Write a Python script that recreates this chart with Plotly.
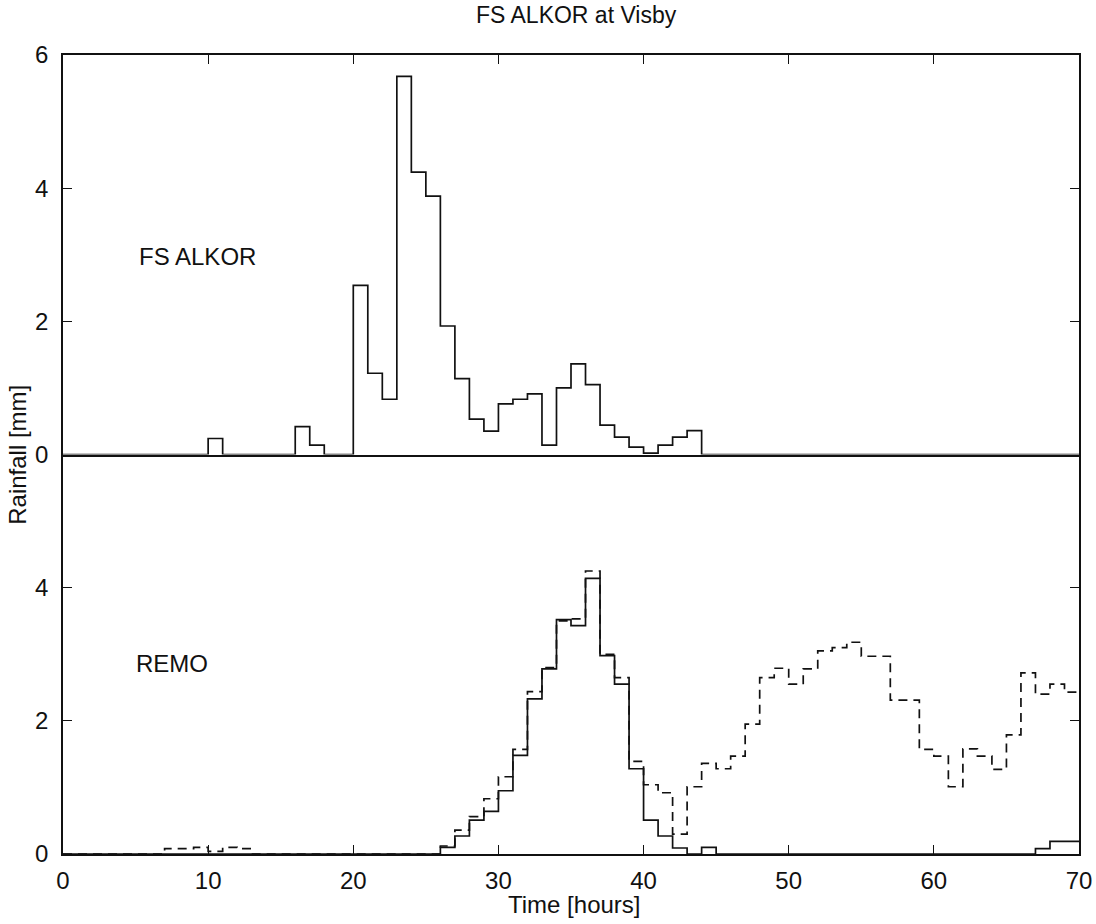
import plotly.graph_objects as go

# ---- data (hourly bins, hour 0..69) ----
hours = list(range(71))  # bin edges 0..70

alkor = [0, 0, 0, 0, 0, 0, 0, 0, 0, 0,
         0.24, 0, 0, 0, 0, 0, 0.42, 0.14, 0, 0,
         2.54, 1.22, 0.83, 5.68, 4.24, 3.88, 1.93, 1.14, 0.53, 0.35,
         0.76, 0.83, 0.91, 0.14, 1.00, 1.36, 1.05, 0.44, 0.26, 0.11,
         0.02, 0.14, 0.26, 0.36, 0, 0, 0, 0, 0, 0,
         0, 0, 0, 0, 0, 0, 0, 0, 0, 0,
         0, 0, 0, 0, 0, 0, 0, 0, 0, 0]

remo_solid = [0, 0, 0, 0, 0, 0, 0, 0, 0, 0,
              0, 0, 0, 0, 0, 0, 0, 0, 0, 0,
              0, 0, 0, 0, 0, 0, 0.10, 0.27, 0.51, 0.64,
              0.95, 1.48, 2.33, 2.78, 3.52, 3.43, 4.14, 2.98, 2.55, 1.28,
              0.51, 0.27, 0.09, 0, 0.10, 0, 0, 0, 0, 0,
              0, 0, 0, 0, 0, 0, 0, 0, 0, 0,
              0, 0, 0, 0, 0, 0, 0, 0.08, 0.19, 0.19]

remo_dashed = [0, 0, 0, 0, 0, 0, 0, 0.08, 0.08, 0.10,
               0.04, 0.10, 0.08, 0, 0, 0, 0, 0, 0, 0,
               0, 0, 0, 0, 0, 0, 0.12, 0.36, 0.56, 0.83,
               1.16, 1.57, 2.44, 2.80, 3.50, 3.53, 4.25, 3.00, 2.65, 1.39,
               1.04, 0.92, 0.30, 1.01, 1.36, 1.28, 1.47, 1.95, 2.65, 2.79,
               2.55, 2.78, 3.05, 3.10, 3.18, 2.97, 2.97, 2.31, 2.31, 1.57,
               1.47, 1.01, 1.58, 1.47, 1.27, 1.79, 2.72, 2.40, 2.55, 2.43]

x_ticks = [0, 10, 20, 30, 40, 50, 60, 70]
y_ticks_top = [0, 2, 4, 6]
y_ticks_bottom = [0, 2, 4]

title_text = "FS ALKOR at Visby"
x_title = "Time [hours]"
y_title = "Rainfall [mm]"

FONT = "Liberation Sans, Arial, Helvetica, sans-serif"
INK = "#111111"


def stairs(vals):
    return vals + [vals[-1]]


fig = go.Figure()

fig.add_trace(go.Scatter(x=hours, y=stairs(alkor), mode="lines", line_shape="hv",
                         line=dict(color=INK, width=1.7), xaxis="x2", yaxis="y2",
                         showlegend=False, hoverinfo="skip"))
fig.add_trace(go.Scatter(x=hours, y=stairs(remo_dashed), mode="lines", line_shape="hv",
                         line=dict(color=INK, width=1.7, dash="9px,6px"), xaxis="x", yaxis="y",
                         showlegend=False, hoverinfo="skip"))
fig.add_trace(go.Scatter(x=hours, y=stairs(remo_solid), mode="lines", line_shape="hv",
                         line=dict(color=INK, width=1.7), xaxis="x", yaxis="y",
                         showlegend=False, hoverinfo="skip"))

axis_common = dict(showgrid=False, zeroline=False, showline=True, linecolor=INK, linewidth=1.5,
                   ticks="inside", ticklen=9, tickwidth=1.3, tickcolor=INK, automargin=False,
                   tickfont=dict(family=FONT, size=24, color=INK))

fig.update_layout(
    width=1096, height=924,
    margin=dict(l=63, r=17, t=55, b=70, autoexpand=False),
    paper_bgcolor="white", plot_bgcolor="white",
    xaxis=dict(domain=[0, 1], range=[0, 70], tickvals=x_ticks, anchor="y",
               mirror=False, ticklabelstandoff=4, **axis_common),
    xaxis2=dict(domain=[0, 1], range=[0, 70], tickvals=x_ticks, anchor="y2", matches="x",
                side="top", mirror=True, showticklabels=False, **axis_common),
    yaxis=dict(domain=[0, 0.5], range=[0, 6], tickvals=y_ticks_bottom, anchor="x",
               mirror="ticks", ticklabelstandoff=8, **axis_common),
    yaxis2=dict(domain=[0.5, 1], range=[0, 6], tickvals=y_ticks_top, anchor="x2",
                mirror="ticks", ticklabelstandoff=8, **axis_common),
    annotations=[
        dict(text=title_text, xref="paper", yref="paper", x=0.505, y=1.05,
             xanchor="center", yanchor="middle", showarrow=False,
             font=dict(family=FONT, size=23, color=INK)),
        dict(text=x_title, xref="paper", yref="paper", x=0.503, y=-0.063,
             xanchor="center", yanchor="middle", showarrow=False,
             font=dict(family=FONT, size=24, color=INK)),
        dict(text=y_title, xref="paper", yref="paper", x=-0.045, y=0.5,
             xanchor="center", yanchor="middle", textangle=-90, showarrow=False,
             font=dict(family=FONT, size=24, color=INK)),
        dict(text="FS ALKOR", xref="x2", yref="y2", x=5.1, y=2.98,
             xanchor="left", yanchor="middle", showarrow=False,
             font=dict(family=FONT, size=24, color=INK)),
        dict(text="REMO", xref="x", yref="y", x=4.9, y=2.86,
             xanchor="left", yanchor="middle", showarrow=False,
             font=dict(family=FONT, size=24, color=INK)),
    ],
)

fig.write_html("out.html",
               config={"displayModeBar": False},
               post_script="document.body.style.margin='0px';"
                           "document.body.style.overflow='hidden';")
